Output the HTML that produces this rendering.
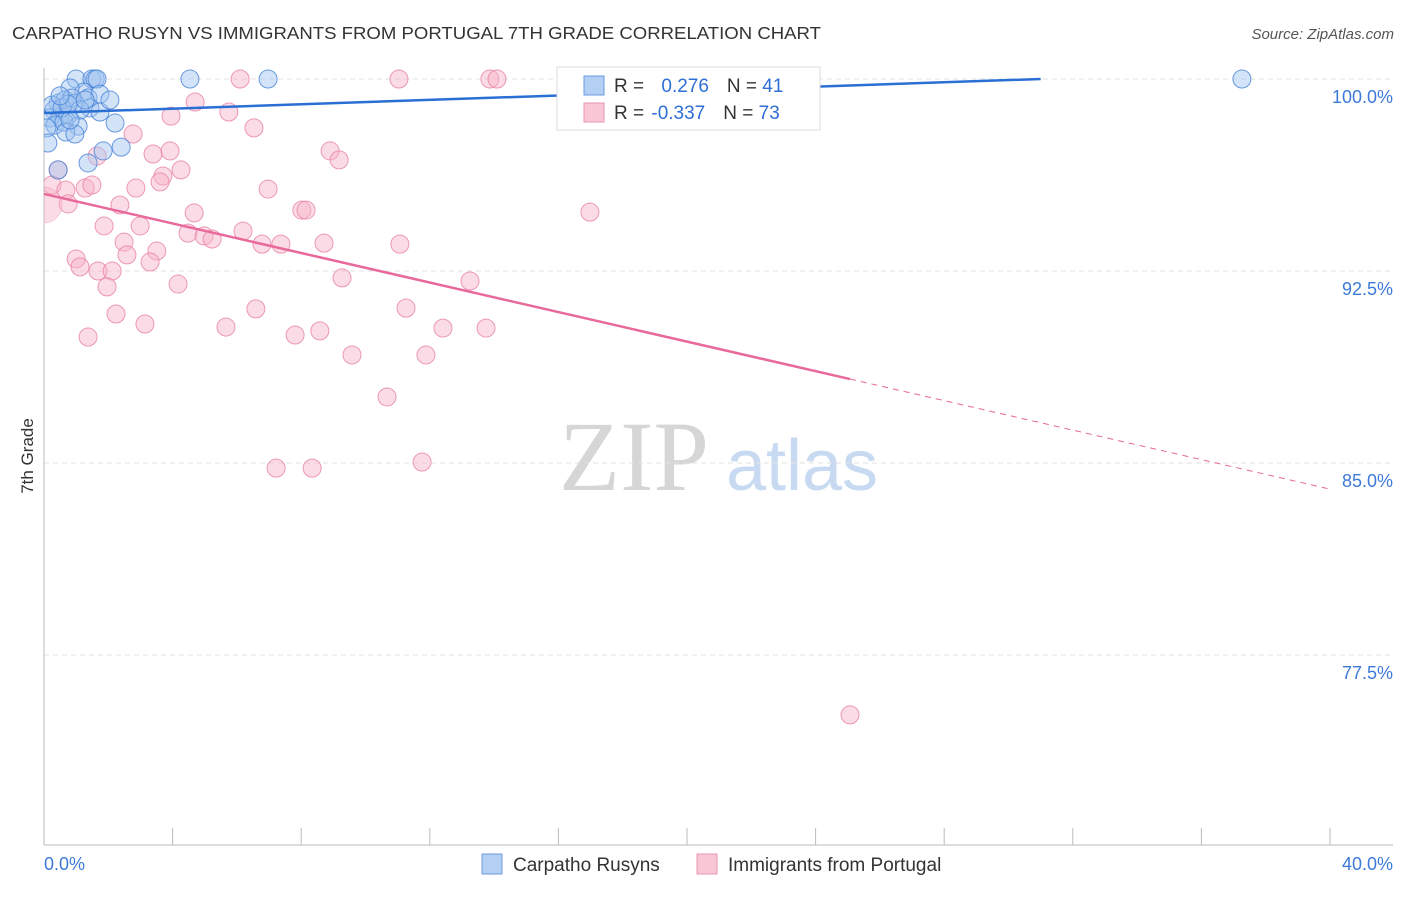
<!DOCTYPE html>
<html><head><meta charset="utf-8"><style>
body{margin:0;background:#fff;font-family:"Liberation Sans",sans-serif}
</style></head><body>
<svg id="c" width="1406" height="892" viewBox="0 0 1406 892" xmlns="http://www.w3.org/2000/svg" font-family="Liberation Sans, sans-serif">
<defs><clipPath id="plot"><rect x="44" y="40" width="1360" height="805"/></clipPath></defs>
<text x="12" y="39" font-size="17.5" fill="#333" textLength="809" lengthAdjust="spacingAndGlyphs">CARPATHO RUSYN VS IMMIGRANTS FROM PORTUGAL 7TH GRADE CORRELATION CHART</text>
<text x="1394" y="39" font-size="15" fill="#555" font-style="italic" text-anchor="end">Source: ZipAtlas.com</text>
<text x="33" y="456" font-size="17" fill="#333" text-anchor="middle" transform="rotate(-90 33 456)">7th Grade</text>
<g>
<text x="634" y="490" font-size="100" style="font-family:'Liberation Serif',serif" fill="#d6d6d6" text-anchor="middle">ZIP</text>
<text x="802" y="490" font-size="72" fill="#c8daf2" text-anchor="middle">atlas</text>
</g>
<g id="grid"></g><g id="axes"></g><g id="pts" clip-path="url(#plot)"></g><g id="trend"></g>
<g>
<rect x="557" y="67" width="263" height="63" fill="#fff" stroke="#ddd"/>
<rect x="584" y="76" width="20" height="19" fill="#b3cff3" stroke="#6a9ae0"/>
<text x="614" y="92" font-size="19" fill="#333">R = <tspan fill="#2f6fd6" dx="12">0.276</tspan><tspan dx="18" fill="#333">N = </tspan><tspan fill="#2f6fd6">41</tspan></text>
<rect x="584" y="103" width="20" height="19" fill="#f9c6d5" stroke="#ea95ae"/>
<text x="614" y="119" font-size="19" fill="#333">R = <tspan fill="#2f6fd6" dx="2">-0.337</tspan><tspan dx="18" fill="#333">N = </tspan><tspan fill="#2f6fd6">73</tspan></text>
</g>
<g>
<rect x="482" y="854" width="20" height="20" fill="#b3cff3" stroke="#6a9ae0"/>
<text x="513" y="871" font-size="19" fill="#333">Carpatho Rusyns</text>
<rect x="697" y="854" width="20" height="20" fill="#f9c6d5" stroke="#ea95ae"/>
<text x="728" y="871" font-size="19" fill="#333">Immigrants from Portugal</text>
</g>
<text x="44" y="870" font-size="18" fill="#3d7ad8">0.0%</text>
<text x="1393" y="870" font-size="18" fill="#3d7ad8" text-anchor="end">40.0%</text>
</svg>
<script>
const yTicks=[100,92.5,85,77.5];
const yTickLabels=["100.0%","92.5%","85.0%","77.5%"];
const blueX=[1.0,1.49,1.59,1.65,4.54,6.97,37.26,1.24,0.81,1.37,1.74,0.44,0.65,0.96,0.31,0.5,0.75,0.19,0.34,0.62,1.06,1.43,1.74,0.09,0.68,0.96,0.12,2.21,2.4,1.84,1.37,0.44,0.87,1.12,0.25,0.56,0.81,1.28,0.75,0.5,2.05];
const blueY=[100,100,100,100,100,100,100,99.49,99.65,99.26,99.41,99.06,99.18,99.06,98.79,98.52,98.59,98.48,98.2,98.32,98.16,98.87,98.71,98.09,97.93,97.85,97.5,98.28,97.34,97.19,96.72,96.45,99.26,98.79,98.98,98.87,98.4,99.18,99.02,99.34,99.18];
const pinkX=[6.10,11.04,13.87,14.09,16.64,4.70,5.75,3.95,6.53,2.77,8.90,9.18,3.39,3.92,1.65,4.26,3.70,3.61,0.44,0.25,0.68,1.28,1.49,2.86,6.97,2.36,0.75,0,4.67,8.02,8.15,16.98,1.87,2.99,4.48,4.98,5.23,6.19,2.49,6.78,7.37,8.71,11.07,3.51,2.58,3.30,1.00,1.12,1.68,2.12,9.27,13.25,1.96,4.17,11.26,6.59,2.24,3.14,5.66,8.58,12.41,13.75,1.37,7.81,9.58,11.88,10.67,7.22,8.34,11.76,25.07];
const pinkY=[100,100,100,100,100,99.10,98.71,98.55,98.09,97.85,97.19,96.84,97.07,97.19,96.99,96.45,96.21,95.98,96.45,95.86,95.66,95.74,95.86,95.74,95.70,95.08,95.12,95.08,94.77,94.88,94.88,94.80,94.26,94.26,93.98,93.87,93.75,94.06,93.63,93.55,93.55,93.59,93.55,93.28,93.13,92.85,92.97,92.66,92.50,92.50,92.23,92.11,91.88,91.99,91.05,91.02,90.82,90.43,90.31,90.16,90.27,90.27,89.92,90.00,89.22,89.22,87.58,84.80,84.80,85.04,75.16];
const blueTrend=[98.67,100];const blueTrendX=[0,31];
const pinkTrend=[95.51,88.28,83.98];const pinkTrendX=[0,25.07,40];

const NS="http://www.w3.org/2000/svg";
const xs=v=>44+v*(1286/40);
const ys=v=>79+(100-v)*25.6;
function mk(tag,attrs,parent){const e=document.createElementNS(NS,tag);for(const k in attrs)e.setAttribute(k,attrs[k]);document.getElementById(parent).appendChild(e);return e;}
yTicks.forEach((t,i)=>{
  const l=mk('line',{x1:44,x2:1393,y1:ys(t),y2:ys(t),stroke:'#e2e2e2','stroke-dasharray':'5,4'},'grid');
  
  
  const tx=mk('text',{x:1393,y:ys(t)+24,'font-size':18,fill:'#3d7ad8','text-anchor':'end'},'grid');
  tx.textContent=yTickLabels[i];
  
  
});
const ax=mk('line',{x1:44,x2:44,y1:68,y2:845,stroke:'#bbb'},'axes');


const bx=mk('line',{x1:44,x2:1393,y1:845,y2:845,stroke:'#bbb'},'axes');


for(let i=0;i<=10;i++){const t=mk('line',{x1:xs(i*4),x2:xs(i*4),y1:828,y2:845,stroke:'#bbb'},'axes');

}
pinkX.forEach((x,i)=>{const c=mk('circle',{cx:xs(x),cy:ys(pinkY[i]),r:i==27?18:9,fill:'rgba(246,178,200,0.45)',stroke:i==27?'rgba(232,130,162,0.3)':'rgba(232,130,162,0.8)','stroke-width':1},'pts');

});
blueX.forEach((x,i)=>{const c=mk('circle',{cx:xs(x),cy:ys(blueY[i]),r:9,fill:'rgba(160,195,240,0.45)',stroke:'rgba(70,130,215,0.8)','stroke-width':1},'pts');

});
const bl=mk('line',{x1:xs(blueTrendX[0]),y1:ys(blueTrend[0]),x2:xs(blueTrendX[1]),y2:ys(blueTrend[1]),stroke:'#2a6fd4','stroke-width':2.5},'trend');


const pl=mk('line',{x1:xs(pinkTrendX[0]),y1:ys(pinkTrend[0]),x2:xs(pinkTrendX[1]),y2:ys(pinkTrend[1]),stroke:'#e8699a','stroke-width':2.5},'trend');


const pd=mk('line',{x1:xs(pinkTrendX[1]),y1:ys(pinkTrend[1]),x2:xs(pinkTrendX[2]),y2:ys(pinkTrend[2]),stroke:'#e8699a','stroke-width':1,'stroke-dasharray':'6,5'},'trend');


</script>
</body></html>
